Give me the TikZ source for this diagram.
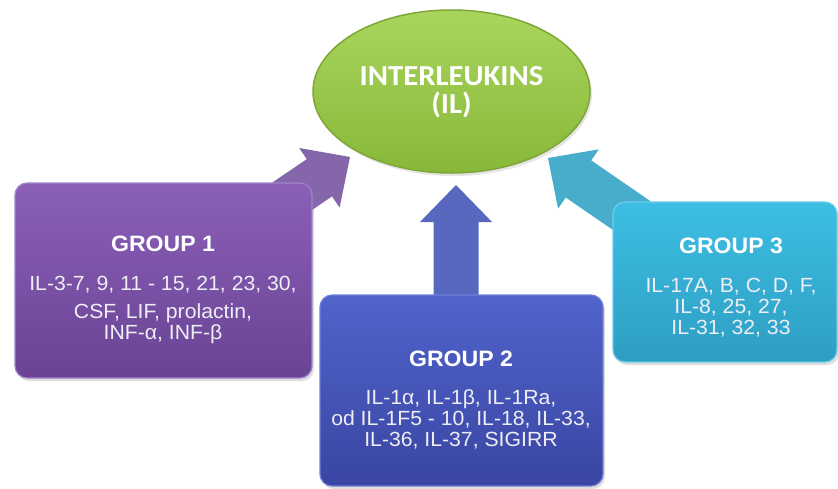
\documentclass[tikz,border=0pt]{standalone}
\usepackage{fontspec}
\usetikzlibrary{shapes.geometric,calc,shadows}
\newfontfamily\bodyf{Liberation Sans}[FakeStretch=1.035]
\newfontfamily\elf{Carlito}[FakeStretch=1.06]
\definecolor{gtop}{HTML}{A9D55C}
\definecolor{gbot}{HTML}{88B83A}
\definecolor{gedge}{HTML}{7FA636}
\definecolor{ptop}{HTML}{8A60B8}
\definecolor{pbot}{HTML}{6A4394}
\definecolor{pedge}{HTML}{A084CC}
\definecolor{parr}{HTML}{8666AA}
\definecolor{btop}{HTML}{5064CC}
\definecolor{bbot}{HTML}{3A45A2}
\definecolor{bedge}{HTML}{6F80D8}
\definecolor{barr}{HTML}{5868BF}
\definecolor{ctop}{HTML}{3DBEE3}
\definecolor{cbot}{HTML}{2E9EC3}
\definecolor{cedge}{HTML}{6CCDEA}
\definecolor{carr}{HTML}{47ADCB}
\definecolor{bodytxt}{HTML}{EEEEF4}
\newcommand\myblockarrow[3]{%
  \path (#2) coordinate (tip) ($(#2)!37pt!(#1)$) coordinate (hb);
  \fill[#3] (tip) -- ($(hb)!36pt!90:(tip)$) -- ($(hb)!22.5pt!90:(tip)$)
    -- ($(#1)!22.5pt!90:(hb)$) -- ($(#1)!22.5pt!-90:(hb)$)
    -- ($(hb)!22.5pt!-90:(tip)$) -- ($(hb)!36pt!-90:(tip)$) -- cycle;
}
\begin{document}
\begin{tikzpicture}[x=1pt,y=-1pt,
  panel/.style={rectangle, rounded corners=12pt, line width=1.2pt,
    drop shadow={shadow xshift=2pt, shadow yshift=-3pt, opacity=0.25}},
  title/.style={anchor=base, text=white, inner sep=0pt,
    font=\bodyf\bfseries\fontsize{22.3}{24}\selectfont},
  body/.style={anchor=base, text=bodytxt, inner sep=0pt,
    font=\bodyf\fontsize{20.5}{22}\selectfont},
  eltext/.style={anchor=base, text=white, inner sep=0pt,
    font=\elf\bfseries\fontsize{29}{30}\selectfont}]
\useasboundingbox (0,0) rectangle (838,488);
\fill[white] (0,0) rectangle (838,488);

% central ellipse
\node[ellipse, minimum width=277pt, minimum height=163pt, top color=gtop,
  bottom color=gbot, draw=gedge, line width=1.5pt,
  drop shadow={shadow xshift=2pt, shadow yshift=-3pt, opacity=0.2}]
  (il) at (451.5,91.5) {};
\node[eltext] (iltitle) at (451.5,85) {INTERLEUKINS};
\node[eltext] (ilabbr) at (451.5,113) {(IL)};

% block arrows (drawn under the panels)
\coordinate (a1tail) at (244.9,228.3);
\coordinate (a1tip) at (350,157);
\coordinate (a2tail) at (456,305);
\coordinate (a2tip) at (456,185);
\coordinate (a3tail) at (661.7,236.2);
\coordinate (a3tip) at (548,158);
\myblockarrow{a1tail}{a1tip}{parr}
\myblockarrow{a2tail}{a2tip}{barr}
\myblockarrow{a3tail}{a3tip}{carr}

% group 1
\node[panel, top color=ptop, bottom color=pbot, draw=pedge,
  minimum width=297pt, minimum height=195pt] (g1) at (163.5,280.5) {};
\node[title] (g1t) at (163,251) {GROUP 1};
\node[body] (g1a) at (163,290) {IL-3-7, 9, 11 - 15, 21, 23, 30,};
\node[body] (g1b) at (163,318) {CSF, LIF, prolactin,};
\node[body] (g1c) at (163,339) {INF-α, INF-β};

% group 2
\node[panel, top color=btop, bottom color=bbot, draw=bedge,
  minimum width=283pt, minimum height=191pt] (g2) at (461.5,390.5) {};
\node[title] (g2t) at (461,366) {GROUP 2};
\node[body] (g2a) at (461,404) {IL-1α, IL-1β, IL-1Ra,};
\node[body] (g2b) at (461,425) {od IL-1F5 - 10, IL-18, IL-33,};
\node[body] (g2c) at (461,446) {IL-36, IL-37, SIGIRR};

% group 3
\node[panel, top color=ctop, bottom color=cbot, draw=cedge,
  minimum width=224pt, minimum height=160pt] (g3) at (725,282) {};
\node[title] (g3t) at (731,253) {GROUP 3};
\node[body] (g3a) at (731,292) {IL-17A, B, C, D, F,};
\node[body] (g3b) at (731,313) {IL-8, 25, 27,};
\node[body] (g3c) at (731,334) {IL-31, 32, 33};
\end{tikzpicture}
\end{document}
